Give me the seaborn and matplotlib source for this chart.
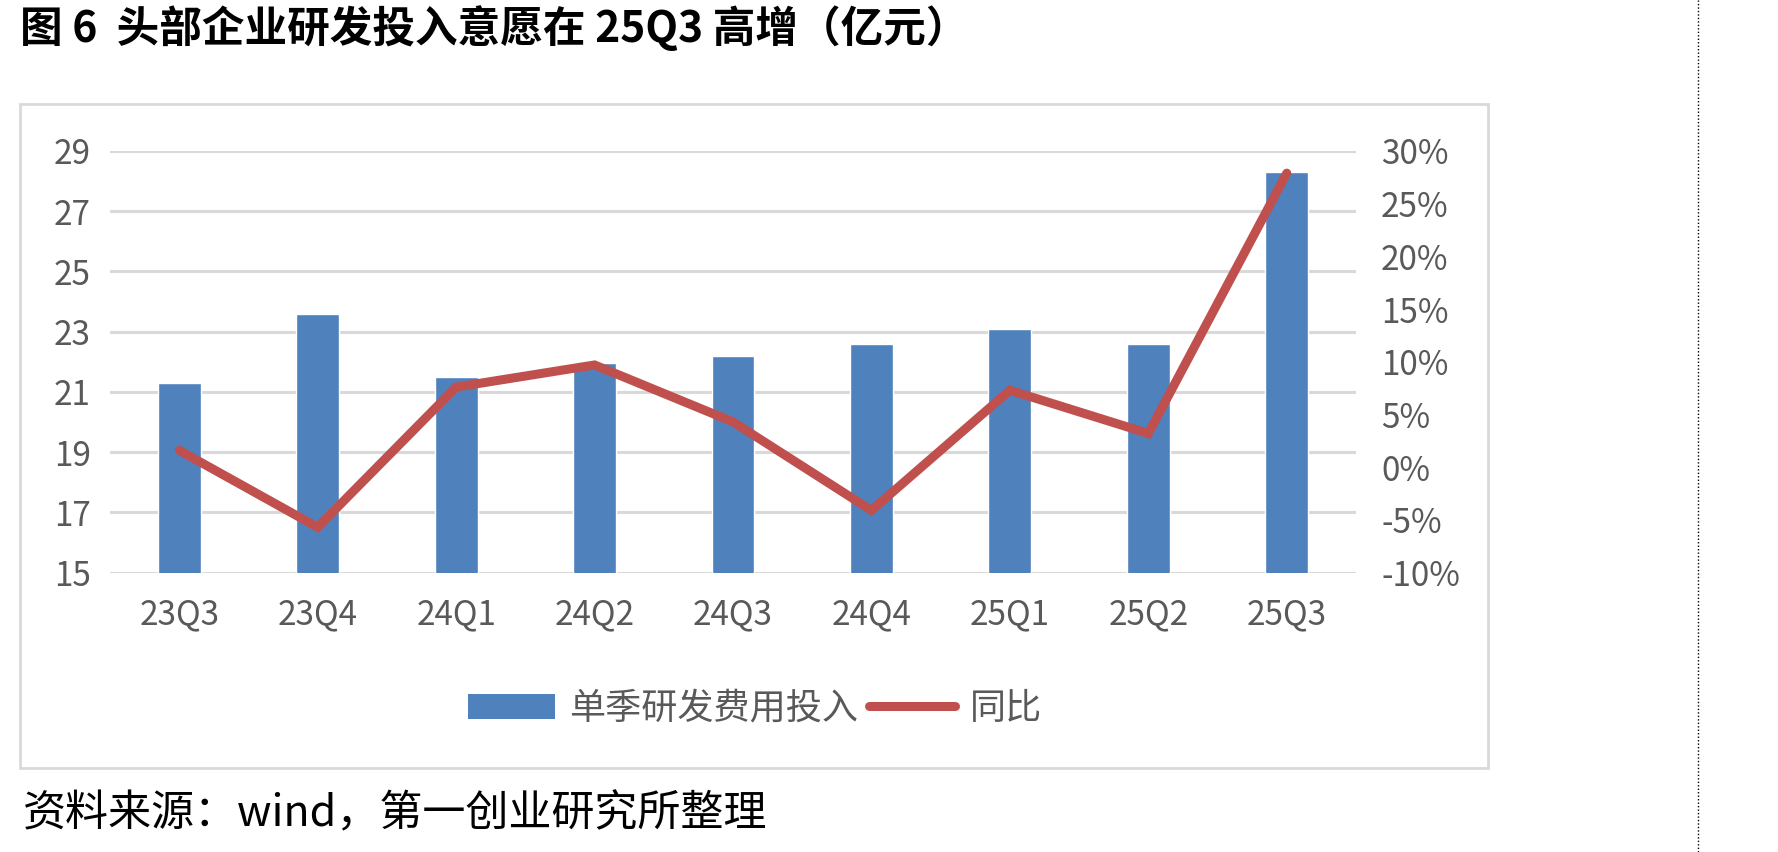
import matplotlib
matplotlib.use("Agg")
import matplotlib.pyplot as plt
import seaborn as sns
import pandas as pd
from matplotlib.patches import Patch, Rectangle
from matplotlib.lines import Line2D
from matplotlib.ticker import FuncFormatter

# 数据
quarters = ["23Q3", "23Q4", "24Q1", "24Q2", "24Q3", "24Q4", "25Q1", "25Q2", "25Q3"]
rd_spend = [21.3, 23.6, 21.5, 21.95, 22.2, 22.6, 23.1, 22.6, 28.3]
yoy = [0.016, -0.057, 0.076, 0.097, 0.043, -0.041, 0.073, 0.032, 0.279]

BLUE = "#4F81BD"
RED = "#C0504D"
GRID = "#D9D9D9"
TXT = "#595959"

sns.set_theme(style="white")
plt.rcParams['font.family'] = ['Noto Sans CJK SC', 'DejaVu Sans']
plt.rcParams['axes.unicode_minus'] = False

df = pd.DataFrame({"季度": quarters, "单季研发费用投入": rd_spend, "同比": yoy})

fig = plt.figure(figsize=(17.78, 8.52), dpi=100)
fig.patch.set_facecolor("white")

# 外框
fig.add_artist(Rectangle((20 / 1778, 1 - 768 / 852), 1468 / 1778, 664 / 852,
                         transform=fig.transFigure, fill=False, edgecolor=GRID, linewidth=2))
# 右侧虚线
fig.add_artist(Line2D([1698 / 1778, 1698 / 1778], [0, 1], transform=fig.transFigure,
                      color="black", linewidth=1, linestyle=(0, (1, 1.5))))

ax = fig.add_axes([110 / 1778, 1 - 572.6 / 852, 1246 / 1778, 421.6 / 852])
sns.barplot(data=df, x="季度", y="单季研发费用投入", color=BLUE, width=0.31,
            saturation=1, ax=ax, zorder=2)
ax.set_ylim(15, 29)
ax.set_yticks(range(15, 30, 2))
ax.set_xlim(-0.5, 8.5)
ax.grid(axis="y", color=GRID, linewidth=2.2, zorder=0)
ax.set_axisbelow(True)
ax.set_xlabel("")
ax.set_ylabel("")
for s in ax.spines.values():
    s.set_visible(False)
ax.tick_params(axis="y", length=0, pad=14, labelsize=24, labelcolor=TXT)
ax.tick_params(axis="x", length=0, pad=18, labelsize=24, labelcolor=TXT)

ax2 = ax.twinx()
sns.lineplot(data=df, x="季度", y="同比", color=RED, linewidth=6.5, sort=False,
             ax=ax2, solid_capstyle="round", solid_joinstyle="miter")
ax2.set_ylim(-0.10, 0.30)
ax2.set_yticks([-0.10, -0.05, 0, 0.05, 0.10, 0.15, 0.20, 0.25, 0.30])
ax2.yaxis.set_major_formatter(FuncFormatter(lambda v, p: f"{round(v * 100)}%"))
ax2.set_ylabel("")
ax2.set_xlabel("")
for s in ax2.spines.values():
    s.set_visible(False)
ax2.tick_params(axis="y", length=0, pad=18, labelsize=24, labelcolor=TXT)

# 图例
handles = [Patch(facecolor=BLUE, edgecolor="none"),
           Line2D([0], [0], color=RED, linewidth=6.5, solid_capstyle="round")]
fig.legend(handles, ["单季研发费用投入", "同比"], loc="center", bbox_to_anchor=(755 / 1778, 1 - 709 / 852),
           ncol=2, frameon=False, fontsize=26, handlelength=2.4, handletextpad=0.4,
           columnspacing=0.3, labelcolor=TXT)

# 标题与来源
fig.text(20 / 1778, 1 - 28 / 852, "图 6  头部企业研发投入意愿在 25Q3 高增（亿元）", fontsize=30.7,
         fontweight="heavy", va="center", ha="left", color="black")
fig.text(23 / 1778, 1 - 814 / 852, "资料来源：wind，第一创业研究所整理", fontsize=31,
         va="center", ha="left", color="black")

plt.savefig("out.png", dpi=100)
